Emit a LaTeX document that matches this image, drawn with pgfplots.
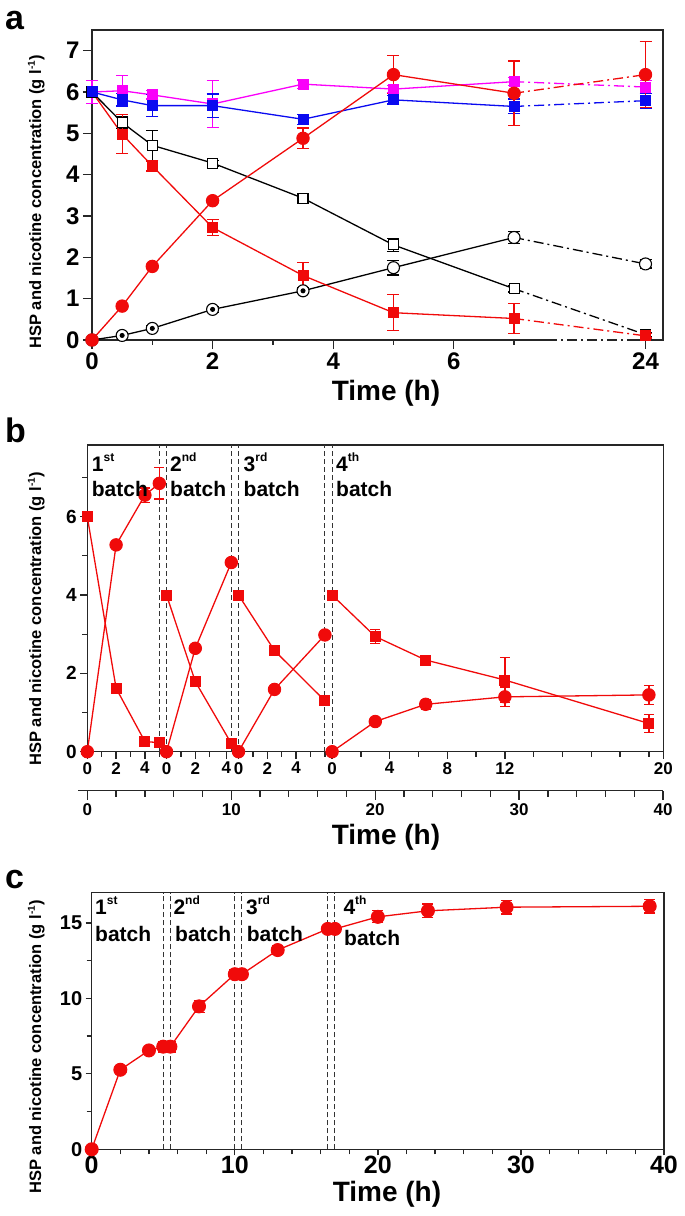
\documentclass[border=0pt]{standalone}
\usepackage{fontspec}
\setmainfont{Liberation Sans}
\usepackage{pgfplots}
\pgfplotsset{compat=1.18}
\newcommand\fs[1]{\fontsize{#1}{#1}\selectfont\bfseries}
\newcommand\sups[1]{\raisebox{10pt}{\fontsize{12}{12}\selectfont\bfseries #1}}
\newcommand\ylab{HSP and nicotine concentration (g l\raisebox{6pt}{\fontsize{10}{10}\selectfont\bfseries -1})}
\definecolor{cred}{RGB}{240,10,10}
\definecolor{cmag}{RGB}{250,0,250}
\definecolor{cblue}{RGB}{10,10,240}
\pgfplotsset{
  base/.style={scale only axis, clip=false,
    axis line style={line width=1.5pt, black!85},
    tick style={line width=1.3pt, black!85},
    tick align=outside, tick pos=left,
    major tick length=9pt, minor tick length=5pt,
    /pgf/number format/assume math mode=true},
  ser/.style={line width=1.3pt, mark options={solid, line width=1pt},
    error bars/y dir=both, error bars/y explicit,
    error bars/error bar style={line width=1.2pt, solid},
    error bars/error mark options={rotate=90, mark size=6pt, line width=1.2pt, solid}},
  dd/.style={line width=1.3pt, dash pattern=on 10pt off 4pt on 2pt off 4pt, mark=none},
  sqf/.style={ser, mark=square*, mark size=5pt},
  cif/.style={ser, mark=*, mark size=6.2pt},
  sqo/.style={ser, mark=square*, mark size=5pt, mark options={solid, fill=white, line width=1.1pt}},
  cio/.style={ser, mark=*, mark size=6pt, mark options={solid, fill=white, line width=1.1pt}},
  vdash/.style={black!80, line width=1pt, dash pattern=on 5pt off 3pt, mark=none},
}
\begin{document}
\begin{tikzpicture}
\path[use as bounding box] (0,0) rectangle (685pt,1216pt);

% ---------------- panel a ----------------
\begin{axis}[base, at={(92pt,876pt)}, anchor=south west, width=571pt, height=310pt,
  xmin=0, xmax=9.47, ymin=0, ymax=7.5,
  xtick={0,2,4,6,9.18}, xticklabels={0,2,4,6,24}, minor xtick={1,3,5,7},
  ytick={0,1,2,3,4,5,6,7}, tick label style={font=\fs{24}}]
\draw[white, line width=3pt] (axis cs:7.55,0) -- (axis cs:9.02,0);
\draw[black!85, line width=1.5pt, dash pattern=on 10pt off 4pt on 2pt off 4pt] (axis cs:7.55,0) -- (axis cs:9.02,0);
\addplot[black, dd] coordinates {(7,1.24)(9.18,0.13)};
\addplot[black, dd] coordinates {(7,2.48)(9.18,1.84)};
\addplot[cred, dd] coordinates {(7,0.52)(9.18,0.10)};
\addplot[cmag, dd] coordinates {(7,6.25)(9.18,6.12)};
\addplot[cblue, dd] coordinates {(7,5.65)(9.18,5.79)};
\addplot[cred, dd] coordinates {(7,5.97)(9.18,6.42)};
% black open squares
\addplot[black, sqo] coordinates {(0,6.0)+-(0,0) (0.5,5.26)+-(0,0.15) (1,4.71)+-(0,0.36) (2,4.28)+-(0,0.07) (3.5,3.43)+-(0,0.05) (5,2.30)+-(0,0.15) (7,1.24)+-(0,0.08)};
\addplot[black, sqo, only marks] coordinates {(9.18,0.13)+-(0,0.05)};
% black open circles
\addplot[black, cio] coordinates {(0,0)+-(0,0) (0.5,0.11)+-(0,0.05) (1,0.28)+-(0,0.06) (2,0.74)+-(0,0.07) (3.5,1.19)+-(0,0.07) (5,1.75)+-(0,0.18) (7,2.48)+-(0,0.15)};
\addplot[black, cio, only marks] coordinates {(9.18,1.84)+-(0,0.10)};
\addplot[black, ser, only marks, mark=none] coordinates {(0.5,0.11)+-(0,0.05) (1,0.28)+-(0,0.06) (2,0.74)+-(0,0.07) (3.5,1.19)+-(0,0.07)};
% red squares
\addplot[cred, sqf] coordinates {(0,6.0)+-(0,0) (0.5,4.98)+-(0,0.47) (1,4.21)+-(0,0.12) (2,2.72)+-(0,0.2) (3.5,1.56)+-(0,0.32) (5,0.66)+-(0,0.44) (7,0.52)+-(0,0.36)};
\addplot[cred, sqf, only marks] coordinates {(9.18,0.10)+-(0,0.05)};
% magenta squares
\addplot[cmag, sqf] coordinates {(0,6.0)+-(0,0.27) (0.5,6.03)+-(0,0.36) (1,5.93)+-(0,0.1) (2,5.71)+-(0,0.57) (3.5,6.19)+-(0,0.1) (5,6.07)+-(0,0.08) (7,6.25)+-(0,0.1)};
\addplot[cmag, sqf, only marks] coordinates {(9.18,6.12)+-(0,0.15)};
% blue squares
\addplot[cblue, sqf] coordinates {(0,6.0)+-(0,0.1) (0.5,5.81)+-(0,0.15) (1,5.67)+-(0,0.27) (2,5.67)+-(0,0.28) (3.5,5.34)+-(0,0.12) (5,5.81)+-(0,0.1) (7,5.65)+-(0,0.18)};
\addplot[cblue, sqf, only marks] coordinates {(9.18,5.79)+-(0,0.18)};
% red circles
\addplot[cred, cif] coordinates {(0,0)+-(0,0) (0.5,0.82)+-(0,0.03) (1,1.78)+-(0,0.05) (2,3.37)+-(0,0.05) (3.5,4.88)+-(0,0.25) (5,6.42)+-(0,0.46) (7,5.97)+-(0,0.78)};
\addplot[cred, cif, only marks] coordinates {(9.18,6.42)+-(0,0.8)};
\end{axis}

% ---------------- panel b ----------------
\begin{axis}[base, at={(87.3pt,464.3pt)}, anchor=south west, width=576pt, height=306.7pt,
  xmin=0, xmax=40, ymin=0, ymax=7.83,
  xtick={0,2,4,5.5,7.5,9.65,10.5,12.5,14.5,17,21,25,29,40},
  xticklabels={0,2,4,0,2,4,0,2,4,0,4,8,12,20},
  minor xtick={1,3,5,6.5,8.5,11.5,13.5,15.5,16.5,19,23,27,31,33,35,37,39},
  ytick={0,2,4,6}, minor ytick={1,3,5,7},
  xticklabel style={font=\fs{17}}, yticklabel style={font=\fs{19}},
  major tick length=7pt, minor tick length=5pt,
  ser/.append style={error bars/error mark options={rotate=90, mark size=5pt, line width=1.2pt, solid}}]
\addplot[vdash] coordinates {(5,0)(5,7.83)};
\addplot[vdash] coordinates {(5.5,0)(5.5,7.83)};
\addplot[vdash] coordinates {(10,0)(10,7.83)};
\addplot[vdash] coordinates {(10.5,0)(10.5,7.83)};
\addplot[vdash] coordinates {(16.5,0)(16.5,7.83)};
\addplot[vdash] coordinates {(17,0)(17,7.83)};
% squares (nicotine)
\addplot[cred, sqf] coordinates {(0,6.0)+-(0,0) (2,1.62)+-(0,0.12) (4,0.26)+-(0,0.05) (5,0.23)+-(0,0.05)};
\addplot[cred, sqf] coordinates {(5.5,4.0)+-(0,0) (7.5,1.79)+-(0,0.1) (10,0.21)+-(0,0.07)};
\addplot[cred, sqf] coordinates {(10.5,4.0)+-(0,0) (13,2.58)+-(0,0.08) (16.5,1.30)+-(0,0.05)};
\addplot[cred, sqf] coordinates {(17,4.0)+-(0,0) (20,2.94)+-(0,0.18) (23.5,2.34)+-(0,0.09) (29,1.83)+-(0,0.58) (39,0.72)+-(0,0.23)};
% circles (HSP)
\addplot[cred, cif] coordinates {(0,0)+-(0,0) (2,5.28)+-(0,0.07) (4,6.55)+-(0,0.18) (5,6.85)+-(0,0.4)};
\addplot[cred, cif] coordinates {(5.5,0)+-(0,0) (7.5,2.64)+-(0,0.06) (10,4.83)+-(0,0.08)};
\addplot[cred, cif] coordinates {(10.5,0)+-(0,0) (13,1.59)+-(0,0.05) (16.5,2.98)+-(0,0.08)};
\addplot[cred, cif] coordinates {(17,0)+-(0,0) (20,0.77)+-(0,0.06) (23.5,1.21)+-(0,0.13) (29,1.40)+-(0,0.25) (39,1.45)+-(0,0.25)};
\end{axis}
% second time axis of panel b
\begin{axis}[at={(78.3pt,425.3pt)}, anchor=south west, scale only axis, width=584.7pt, height=1pt,
  xmin=-0.63, xmax=40, ymin=0, ymax=1,
  axis x line=bottom, axis y line=none,
  axis line style={-, line width=1.5pt, black!85},
  tick style={line width=1.3pt, black!85}, tick align=outside,
  major tick length=9pt, minor tick length=6pt,
  xtick={0,10,20,30,40}, minor x tick num=4,
  /pgf/number format/assume math mode=true,
  xticklabel style={font=\fs{17}}]
\addplot[draw=none, mark=none] coordinates {(0,0)};
\end{axis}

% ---------------- panel c ----------------
\begin{axis}[base, at={(91.7pt,66.7pt)}, anchor=south west, width=572.3pt, height=256.6pt,
  xmin=0, xmax=40, ymin=0, ymax=17,
  xtick={0,10,20,30,40}, minor x tick num=4,
  ytick={0,5,10,15}, minor y tick num=1,
  major tick length=6pt, minor tick length=5pt,
  xticklabel style={font=\fs{25}, yshift=3pt}, yticklabel style={font=\fs{20}},
  ser/.append style={error bars/error mark options={rotate=90, mark size=5.5pt, line width=1.2pt, solid}}]
\addplot[vdash] coordinates {(5,0)(5,17)};
\addplot[vdash] coordinates {(5.5,0)(5.5,17)};
\addplot[vdash] coordinates {(10,0)(10,17)};
\addplot[vdash] coordinates {(10.5,0)(10.5,17)};
\addplot[vdash] coordinates {(16.5,0)(16.5,17)};
\addplot[vdash] coordinates {(17,0)(17,17)};
\addplot[cred, cif, mark size=6.5pt] coordinates {(0,0)+-(0,0) (2,5.27)+-(0,0.1) (4,6.55)+-(0,0.2) (5,6.8)+-(0,0.35) (5.5,6.8)+-(0,0.35) (7.5,9.47)+-(0,0.4) (10,11.6)+-(0,0.3) (10.5,11.6)+-(0,0.3) (13,13.2)+-(0,0.3) (16.5,14.6)+-(0,0.25) (17,14.6)+-(0,0.25) (20,15.4)+-(0,0.4) (23.5,15.8)+-(0,0.45) (29,16.04)+-(0,0.45) (39,16.1)+-(0,0.45)};
\end{axis}

% ---------------- texts ----------------
\node[anchor=base west, inner sep=0] at (5pt,1186pt) {\fs{34}a};
\node[anchor=base west, inner sep=0] at (5pt,773pt) {\fs{34}b};
\node[anchor=base west, inner sep=0] at (5pt,327pt) {\fs{34}c};

\node[anchor=base, inner sep=0] at (386pt,815pt) {\fs{28}Time (h)};
\node[anchor=base, inner sep=0] at (386pt,371pt) {\fs{28}Time (h)};
\node[anchor=base, inner sep=0] at (387pt,14pt) {\fs{28}Time (h)};

\node[rotate=90, anchor=base, inner sep=0] at (41pt,1014pt) {\fs{16.5}\ylab};
\node[rotate=90, anchor=base, inner sep=0] at (41pt,597pt) {\fs{16.5}\ylab};
\node[rotate=90, anchor=base, inner sep=0] at (41pt,169pt) {\fs{16.5}\ylab};

% batch labels panel b
\node[anchor=base west, inner sep=0] at (91.7pt,744pt) {\fs{21}1\sups{st}};
\node[anchor=base west, inner sep=0] at (91.7pt,719pt) {\fs{21}batch};
\node[anchor=base west, inner sep=0] at (170pt,744pt) {\fs{21}2\sups{nd}};
\node[anchor=base west, inner sep=0] at (170pt,719pt) {\fs{21}batch};
\node[anchor=base west, inner sep=0] at (243.5pt,744pt) {\fs{21}3\sups{rd}};
\node[anchor=base west, inner sep=0] at (243.5pt,719pt) {\fs{21}batch};
\node[anchor=base west, inner sep=0] at (336pt,744pt) {\fs{21}4\sups{th}};
\node[anchor=base west, inner sep=0] at (336pt,719pt) {\fs{21}batch};
% batch labels panel c
\node[anchor=base west, inner sep=0] at (95pt,301pt) {\fs{21}1\sups{st}};
\node[anchor=base west, inner sep=0] at (95pt,274.3pt) {\fs{21}batch};
\node[anchor=base west, inner sep=0] at (173.3pt,301pt) {\fs{21}2\sups{nd}};
\node[anchor=base west, inner sep=0] at (175pt,274.3pt) {\fs{21}batch};
\node[anchor=base west, inner sep=0] at (246pt,301pt) {\fs{21}3\sups{rd}};
\node[anchor=base west, inner sep=0] at (246.7pt,274.3pt) {\fs{21}batch};
\node[anchor=base west, inner sep=0] at (343.3pt,301pt) {\fs{21}4\sups{th}};
\node[anchor=base west, inner sep=0] at (344pt,270pt) {\fs{21}batch};
\end{tikzpicture}
\end{document}
